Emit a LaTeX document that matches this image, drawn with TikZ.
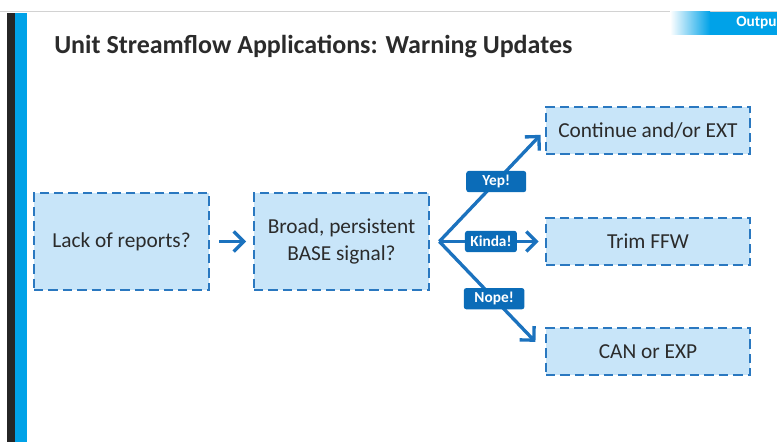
\documentclass[tikz,border=0pt]{standalone}
\usepackage{fontspec}
\setmainfont{Carlito}
\usepackage{xcolor}
\usetikzlibrary{arrows.meta, positioning, calc}
\definecolor{boxfill}{HTML}{C8E5F9}
\definecolor{boxline}{HTML}{2A78C0}
\definecolor{arrowblue}{HTML}{1B72BE}
\definecolor{tagblue}{HTML}{0B6CB8}
\definecolor{titlegray}{HTML}{2B2B2B}
\definecolor{barblue}{HTML}{00A2E8}
\definecolor{bardark}{HTML}{262626}
\tikzset{
  stepbox/.style = {rectangle, draw=boxline, fill=boxfill, line width=2pt,
                    dash pattern=on 7pt off 3.8pt, align=center, text=titlegray,
                    minimum width=131.25pt, minimum height=72.75pt,
                    font=\fontsize{16}{20}\selectfont},
  outbox/.style  = {stepbox, minimum width=153pt, minimum height=35.25pt},
  tag/.style     = {rectangle, fill=tagblue, rounded corners=2pt, text=white,
                    font=\fontsize{11.5}{13}\bfseries\selectfont, inner sep=0pt,
                    minimum height=16pt},
  arrow/.style   = {draw=arrowblue, line width=2.5pt,
                    -{Straight Barb[length=7.5pt, width=15pt, line width=2.5pt]}},
}

\begin{document}
\begin{tikzpicture}[x=0.75pt, y=-0.75pt]
    \useasboundingbox (0,0) rectangle (777,442);

    %% Page frame
    \draw[gray!35, line width=0.6pt] (0,11) -- (777,11);
    \fill[bardark] (7,13) rectangle (15,442);
    \fill[barblue] (15,13) rectangle (27,442);
    \shade[left color=white, right color=barblue] (670,12) rectangle (710,35);
    \fill[barblue] (710,12) rectangle (777,35);
    \begin{scope}
      \clip (670,12) rectangle (777,35);
      \node[anchor=west, text=white, font=\fontsize{11.5}{13}\bfseries\selectfont,
            inner sep=0pt] (outpu) at (736,23) {Outpu};
    \end{scope}

    %% Title
    \node[anchor=west, text=titlegray, inner sep=0pt,
          font=\fontsize{19.5}{23}\bfseries\selectfont] (title) at (54,47)
          {Unit Streamflow Applications: Warning Updates};

    %% Question boxes
    \node[stepbox] (lack)  at (121.5, 241.5) {Lack of reports?};
    \node[stepbox] (broad) at (341.5, 241.5) {Broad, persistent\\BASE signal?};

    \draw[arrow, shorten <=6.75pt, shorten >=5pt] (lack) -- (broad);

    %% Outcome boxes
    \node[outbox] (cont) at (648, 130.5) {Continue and/or EXT};
    \node[outbox] (trim) at (648, 241.5) {Trim FFW};
    \node[outbox] (can)  at (648, 351.5) {CAN or EXP};

    %% Fork
    \coordinate (fork) at ($(broad.east)+(9,0)$);
    \draw[arrow, shorten >=4.5pt] (fork) -- (cont.west)
         node[tag, pos=0.54, minimum width=45pt] (yep) {Yep!};
    \draw[arrow, shorten >=4.5pt] (fork) -- (trim.west)
         node[tag, pos=0.49, minimum width=39pt] (kinda) {Kinda!};
    \draw[arrow, shorten >=10pt] (fork) -- (can.west)
         node[tag, pos=0.52, minimum width=45.5pt] (nope) {Nope!};

  \end{tikzpicture}
\end{document}
